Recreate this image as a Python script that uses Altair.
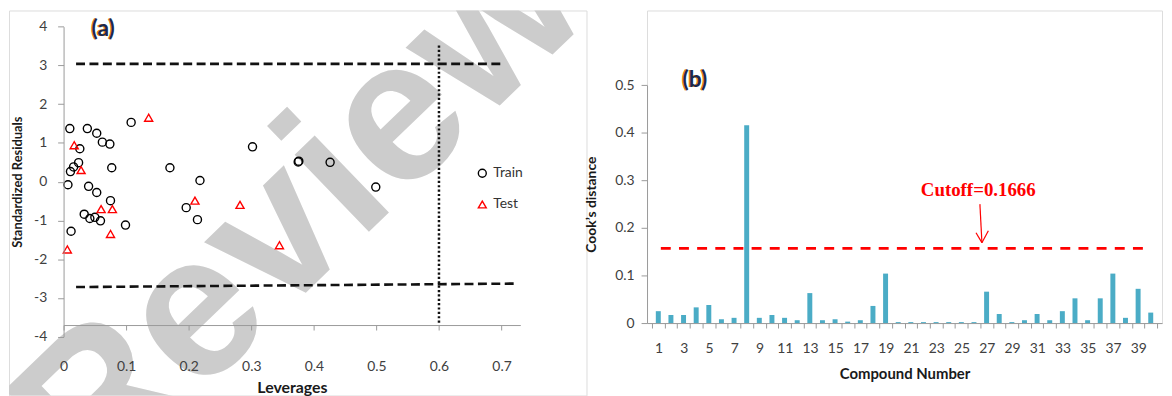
import altair as alt
import pandas as pd

# ---------------- Panel (a): Williams plot ----------------
train_leverage = [0.010, 0.038, 0.053, 0.108, 0.062, 0.074, 0.026, 0.024, 0.016, 0.011,
                  0.077, 0.170, 0.007, 0.040, 0.053, 0.075, 0.196, 0.033, 0.042, 0.050,
                  0.059, 0.099, 0.012, 0.302, 0.375, 0.376, 0.426, 0.499, 0.218, 0.214]
train_residual = [1.37, 1.37, 1.25, 1.53, 1.02, 0.97, 0.85, 0.49, 0.38, 0.26,
                  0.36, 0.36, -0.08, -0.12, -0.28, -0.49, -0.67, -0.84, -0.95, -0.92,
                  -1.01, -1.12, -1.28, 0.90, 0.51, 0.53, 0.50, -0.14, 0.03, -0.98]
test_leverage = [0.136, 0.017, 0.028, 0.060, 0.078, 0.075, 0.006, 0.210, 0.282, 0.345]
test_residual = [1.65, 0.94, 0.30, -0.71, -0.71, -1.35, -1.75, -0.49, -0.60, -1.64]
series_names = ["Train", "Test"]

upper_limit_x = [0.02, 0.70]
upper_limit_y = [3.04, 3.04]
lower_limit_x = [0.02, 0.726]
lower_limit_y = [-2.72, -2.63]
warning_x = [0.6, 0.6]
warning_y = [-3.64, 3.55]

x_ticks_a = [0, 0.1, 0.2, 0.3, 0.4, 0.5, 0.6, 0.7]
y_ticks_a = [-4, -3, -2, -1, 0, 1, 2, 3, 4]

panel_a_label = ["(a)"]
panel_a_label_pos = [0.0634, 3.94]
watermark_text = ["Review"]
watermark_pos = [0.446, -1.95]

# ---------------- Panel (b): Cook's distance ----------------
compound = list(range(1, 41))
cooks_distance = [0.025, 0.017, 0.017, 0.033, 0.038, 0.008, 0.011, 0.416, 0.011, 0.017,
                  0.011, 0.006, 0.063, 0.006, 0.008, 0.003, 0.006, 0.036, 0.104, 0.002,
                  0.002, 0.002, 0.002, 0.002, 0.002, 0.002, 0.066, 0.019, 0.002, 0.006,
                  0.019, 0.006, 0.025, 0.052, 0.006, 0.052, 0.104, 0.011, 0.072, 0.022]
cutoff_level = 0.157
cutoff_span = [1.2, 39.96]
cutoff_label = ["Cutoff=0.1666"]
cutoff_label_pos = [26.34, 0.2787]
arrow_x = [26.47, 26.16, 27.14]
arrow_y = [0.250, 0.190, 0.194]
arrow_tip = [26.63, 0.169]
panel_b_label = ["(b)"]
panel_b_label_pos = [3.89, 0.511]
x_ticks_b = [i + 0.5 for i in range(0, 41)]
y_ticks_b = [0, 0.1, 0.2, 0.3, 0.4, 0.5]

NAVY = "#1b2a4e"
ORANGE = "#e8860c"
GRAY_AXIS = "#9a9a9a"
LABEL_COLOR = "#404040"

# panel (a) occupies a large group so that the watermark can spread beyond the axes
A_W, A_H = 582, 388
A_XRANGE = [55, 515.3]
A_YRANGE = [328.7, 16.3]

# ---------- build panel (a) ----------
pts = pd.DataFrame({
    "lev": train_leverage + test_leverage,
    "res": train_residual + test_residual,
    "set": ["Train"] * len(train_leverage) + ["Test"] * len(test_leverage),
})

xa = alt.Scale(domain=[0, 0.73], range=A_XRANGE, nice=False, zero=False)
ya = alt.Scale(domain=[-4, 4], range=A_YRANGE, nice=False, zero=False)

x_axis_a = alt.Axis(values=x_ticks_a, tickCount=200, labelExpr="'' + datum.value",
                    offset=-(A_H - 317), tickSize=5, labelPadding=30, labelFlush=False,
                    labelOverlap=False, grid=False, domainColor=GRAY_AXIS, tickColor=GRAY_AXIS,
                    labelColor=LABEL_COLOR, labelFont="Lato", labelFontSize=14, title="Leverages",
                    titleFont="Lato", titleFontSize=16, titleFontWeight="bold", titleColor="#1a1a1a",
                    titlePadding=6, zindex=1)
y_axis_a = alt.Axis(values=y_ticks_a, tickCount=200, labelExpr="'' + datum.value", tickSize=6,
                    offset=-A_XRANGE[0], labelPadding=11, labelOverlap=False, grid=False,
                    domainColor=GRAY_AXIS, tickColor=GRAY_AXIS, labelColor=LABEL_COLOR,
                    labelFont="Lato", labelFontSize=14, title="Standardized  Residuals",
                    titleFont="Lato", titleFontSize=13, titleFontWeight="bold", titleColor="#1a1a1a",
                    titlePadding=9, zindex=1)

wm_df = pd.DataFrame({"x": [watermark_pos[0]], "y": [watermark_pos[1]], "t": watermark_text})
watermark = alt.Chart(wm_df).mark_text(
    angle=316, fontSize=204, font="Liberation Sans", fontWeight="bold", color="#cccccc",
    align="center", baseline="alphabetic", clip=True
).encode(x=alt.X("x:Q", scale=xa, axis=x_axis_a), y=alt.Y("y:Q", scale=ya, axis=y_axis_a), text="t:N")

upper_df = pd.DataFrame({"x": [upper_limit_x[0]], "x2": [upper_limit_x[1]],
                         "y": [upper_limit_y[0]], "y2": [upper_limit_y[1]]})
lower_df = pd.DataFrame({"x": [lower_limit_x[0]], "x2": [lower_limit_x[1]],
                         "y": [lower_limit_y[0]], "y2": [lower_limit_y[1]]})
warn_df = pd.DataFrame({"x": [warning_x[0]], "x2": [warning_x[1]],
                        "y": [warning_y[0]], "y2": [warning_y[1]]})

def seg(df, **kw):
    return alt.Chart(df).mark_rule(**kw).encode(x="x:Q", x2="x2:Q", y="y:Q", y2="y2:Q")

upper = seg(upper_df, color="#111111", strokeWidth=2.6, strokeDash=[9, 4.5])
lower = seg(lower_df, color="#111111", strokeWidth=2.6, strokeDash=[9, 4.5])
warn = seg(warn_df, color="#111111", strokeWidth=2.5, strokeDash=[2.2, 2.2])

legend_a = alt.Legend(orient="none", legendX=470, legendY=157, title=None, labelFont="Lato",
                      labelFontSize=14, labelColor="#333333", rowPadding=17.5, padding=0,
                      labelOffset=4, symbolStrokeWidth=1.4, symbolSize=64)
points = alt.Chart(pts).mark_point(filled=False, size=66, strokeWidth=1.4, opacity=1).encode(
    x="lev:Q", y="res:Q",
    shape=alt.Shape("set:N", scale=alt.Scale(domain=series_names, range=["circle", "triangle-up"]),
                    legend=legend_a),
    color=alt.Color("set:N", scale=alt.Scale(domain=series_names, range=["#000000", "#ff0000"]),
                    legend=legend_a),
)

la_df = pd.DataFrame({"x": [panel_a_label_pos[0]], "y": [panel_a_label_pos[1]], "t": panel_a_label})
la_shadow = alt.Chart(la_df).mark_text(font="Lato", fontWeight="bold", fontSize=23, color=ORANGE,
                                       dx=-1.2, dy=0.5).encode(x="x:Q", y="y:Q", text="t:N")
la_text = alt.Chart(la_df).mark_text(font="Lato", fontWeight="bold", fontSize=23, color=NAVY
                                     ).encode(x="x:Q", y="y:Q", text="t:N")

panel_a = alt.layer(watermark, upper, lower, warn, points, la_shadow, la_text).properties(
    width=A_W, height=A_H)

# ---------- build panel (b) ----------
bars_df = pd.DataFrame({"n": compound, "d": cooks_distance})
xb = alt.Scale(domain=[0.5, 40.5], nice=False, zero=False)
yb = alt.Scale(domain=[0, 0.5], range=[315, 75.3], nice=False)

x_axis_b = alt.Axis(values=x_ticks_b, tickCount=200,
                    labelExpr="((datum.value + 0.5) % 2 == 1 && datum.value < 40) ? format(datum.value + 0.5, 'd') : ''",
                    labelOffset=6.5, tickSize=5, labelPadding=14, labelFlush=False, labelOverlap=False,
                    grid=False, domainColor=GRAY_AXIS, tickColor=GRAY_AXIS, labelColor=LABEL_COLOR,
                    labelFont="Lato", labelFontSize=14, title="Compound Number", titleFont="Lato",
                    titleFontSize=15, titleFontWeight="bold", titleColor="#1a1a1a", titlePadding=11)
y_axis_b = alt.Axis(values=y_ticks_b, tickCount=200,
                    labelExpr="datum.value == 0 ? '0' : format(datum.value, '.1f')",
                    tickSize=6, labelPadding=7, labelOverlap=False, grid=False, domainColor=GRAY_AXIS,
                    tickColor=GRAY_AXIS, labelColor=LABEL_COLOR, labelFont="Lato", labelFontSize=14,
                    title="Cook\u2019s distance", titleFont="Lato", titleFontSize=14,
                    titleFontWeight="bold", titleColor="#1a1a1a", titlePadding=16)

bars = alt.Chart(bars_df).mark_bar(size=5, color="#4bacc6").encode(
    x=alt.X("n:Q", scale=xb, axis=x_axis_b), y=alt.Y("d:Q", scale=yb, axis=y_axis_b))

cut_df = pd.DataFrame({"x": [cutoff_span[0]], "x2": [cutoff_span[1]], "y": [cutoff_level]})
cutoff = alt.Chart(cut_df).mark_rule(color="#ff0000", strokeWidth=3, strokeDash=[10, 8.3]).encode(
    x="x:Q", x2="x2:Q", y="y:Q")

arr_df = pd.DataFrame({"x": arrow_x, "y": arrow_y,
                       "x2": [arrow_tip[0]] * 3, "y2": [arrow_tip[1]] * 3})
arrow = alt.Chart(arr_df).mark_rule(color="#ff0000", strokeWidth=1.2).encode(
    x="x:Q", x2="x2:Q", y="y:Q", y2="y2:Q")

ct_df = pd.DataFrame({"x": [cutoff_label_pos[0]], "y": [cutoff_label_pos[1]], "t": cutoff_label})
cut_text = alt.Chart(ct_df).mark_text(font="Liberation Serif", fontWeight="bold", fontSize=19,
                                      color="#ff0000").encode(x="x:Q", y="y:Q", text="t:N")

lb_df = pd.DataFrame({"x": [panel_b_label_pos[0]], "y": [panel_b_label_pos[1]], "t": panel_b_label})
lb_shadow = alt.Chart(lb_df).mark_text(font="Lato", fontWeight="bold", fontSize=23, color=ORANGE,
                                       dx=-1.2, dy=0.5).encode(x="x:Q", y="y:Q", text="t:N")
lb_text = alt.Chart(lb_df).mark_text(font="Lato", fontWeight="bold", fontSize=23, color=NAVY
                                     ).encode(x="x:Q", y="y:Q", text="t:N")

panel_b = alt.layer(bars, cutoff, arrow, cut_text, lb_shadow, lb_text).properties(width=519, height=315)

chart = alt.hconcat(panel_a, panel_b, spacing=61, bounds="flush").properties(
    padding={"left": 0, "top": 0, "right": 0, "bottom": 0}
).configure_view(stroke=None).configure(background="white")

chart.save("out.html", embed_options={"renderer": "svg", "actions": False})
